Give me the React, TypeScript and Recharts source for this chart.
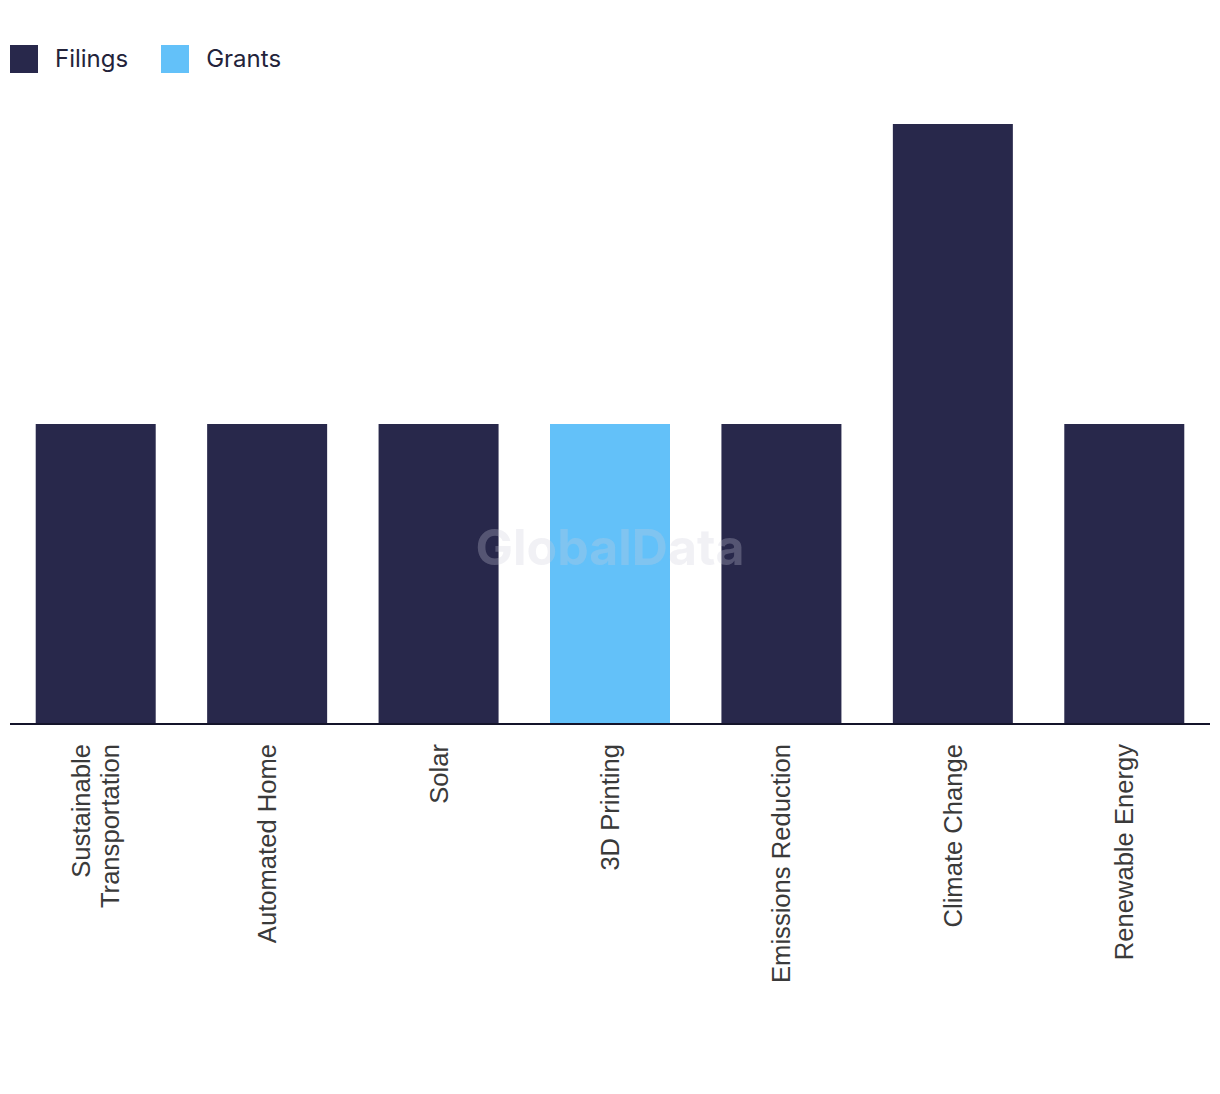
import React from 'react';
import { BarChart, Bar, XAxis, YAxis } from 'recharts';

const CATEGORIES = [
  'Sustainable Transportation',
  'Automated Home',
  'Solar',
  '3D Printing',
  'Emissions Reduction',
  'Climate Change',
  'Renewable Energy',
];
const FILINGS = [1, 1, 1, 0, 1, 2, 1];
const GRANTS = [0, 0, 0, 1, 0, 0, 0];

const NAVY = '#28284b';
const SKY = '#63c1f9';

const data = CATEGORIES.map((name, i) => ({ name, filings: FILINGS[i], grants: GRANTS[i] }));

// long labels go on two lines
const splitLabel = (label: string) => {
  if (label.length <= 20) return [label];
  const words = label.split(' ');
  const half = Math.ceil(words.length / 2);
  return [words.slice(0, half).join(' '), words.slice(half).join(' ')];
};

const RotatedTick = (props: any) => {
  const { x, y, payload } = props;
  const lines = splitLabel(payload.value);
  const step = 29;
  const start = -((lines.length - 1) * step) / 2;
  return (
    <text
      transform={`translate(${x},${y + 12}) rotate(-90)`}
      textAnchor="end"
      dominantBaseline="central"
      fill="#3a3a3a"
      fontSize={25.6}
      fontFamily="'Liberation Sans', Arial, sans-serif"
    >
      {lines.map((l, i) => (
        <tspan key={l} x={0} y={start + i * step}>
          {l}
        </tspan>
      ))}
    </text>
  );
};

const LegendItem = ({ color, label }: { color: string; label: string }) => (
  <div style={{ display: 'flex', alignItems: 'center', marginRight: 33 }}>
    <div style={{ width: 28, height: 28, background: color, marginRight: 17 }} />
    <span style={{ fontSize: 24, color: '#23233a' }}>{label}</span>
  </div>
);

export default function App() {
  return (
    <div style={{ position: 'absolute', left: 0, top: 0, width: 1220, height: 1094, background: '#fff', fontFamily: 'Inter, sans-serif' }}>
      <div style={{ position: 'absolute', left: 10, top: 44, display: 'flex' }}>
        <LegendItem color={NAVY} label="Filings" />
        <LegendItem color={SKY} label="Grants" />
      </div>
      <BarChart
        width={1220}
        height={1094}
        data={data}
        margin={{ top: 124, right: 10, bottom: 0, left: 10 }}
        barCategoryGap="15%"
      >
        <XAxis
          dataKey="name"
          interval={0}
          height={370}
          tickLine={false}
          axisLine={{ stroke: '#14142a', strokeWidth: 2 }}
          tick={<RotatedTick />}
        />
        <YAxis hide domain={[0, 2]} />
        <Bar dataKey="filings" stackId="a" fill={NAVY} isAnimationActive={false} />
        <Bar dataKey="grants" stackId="a" fill={SKY} isAnimationActive={false} />
      </BarChart>
      <div
        style={{
          position: 'absolute',
          left: 0,
          width: 1220,
          top: 517,
          textAlign: 'center',
          fontSize: 50,
          fontWeight: 700,
          color: 'rgba(205,205,220,0.28)',
          pointerEvents: 'none',
        }}
      >
        GlobalData
      </div>
    </div>
  );
}
